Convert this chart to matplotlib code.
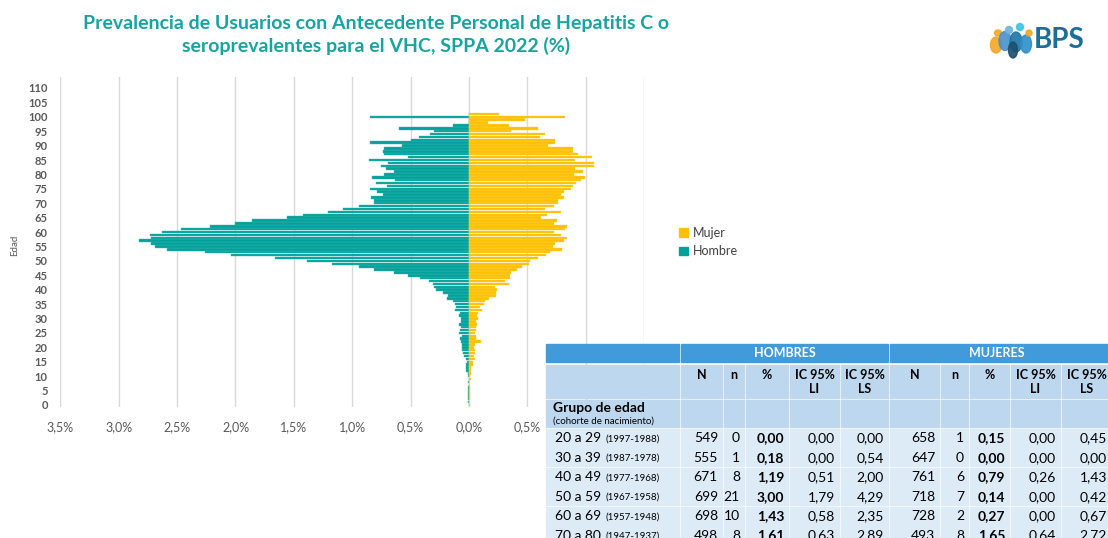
import matplotlib.pyplot as plt
import numpy as np
from matplotlib.patches import Patch, Rectangle, Ellipse

plt.rcParams['font.family'] = ['Lato', 'DejaVu Sans']

# Age-specific prevalence (%), ages 0..101
ages = np.arange(0, 102)
hombre = [0.00, 0.01, 0.01, 0.01, 0.01, 0.01, 0.01, 0.00, 0.005, 0.00,
          0.01, 0.01, 0.03, 0.03, 0.03, 0.02, 0.03, 0.04, 0.05, 0.06,
          0.06, 0.06, 0.07, 0.08, 0.06, 0.09, 0.08, 0.07, 0.09, 0.07,
          0.07, 0.09, 0.08, 0.12, 0.11, 0.12, 0.14, 0.19, 0.18, 0.22,
          0.28, 0.30, 0.31, 0.34, 0.42, 0.52, 0.64, 0.81, 0.94, 1.17,
          1.39, 1.66, 2.04, 2.26, 2.59, 2.69, 2.72, 2.83, 2.72, 2.73,
          2.63, 2.47, 2.22, 2.00, 1.86, 1.56, 1.42, 1.21, 1.08, 0.94,
          0.81, 0.81, 0.84, 0.74, 0.79, 0.85, 0.70, 0.80, 0.63, 0.83,
          0.73, 0.64, 0.71, 0.75, 0.69, 0.86, 0.52, 0.73, 0.74, 0.73,
          0.57, 0.85, 0.50, 0.43, 0.33, 0.30, 0.60, 0.14, 0.00, 0.00,
          0.85, 0.00]
mujer = [0.01, 0.00, 0.01, 0.01, 0.01, 0.01, 0.01, 0.00, 0.00, 0.02,
         0.01, 0.02, 0.02, 0.02, 0.03, 0.03, 0.05, 0.04, 0.05, 0.05,
         0.04, 0.05, 0.10, 0.06, 0.06, 0.05, 0.06, 0.06, 0.07, 0.06,
         0.08, 0.07, 0.08, 0.11, 0.09, 0.13, 0.14, 0.17, 0.23, 0.23,
         0.24, 0.22, 0.34, 0.31, 0.35, 0.35, 0.36, 0.41, 0.45, 0.51,
         0.52, 0.59, 0.66, 0.69, 0.80, 0.72, 0.74, 0.81, 0.84, 0.79,
         0.73, 0.82, 0.84, 0.73, 0.75, 0.62, 0.67, 0.79, 0.65, 0.73,
         0.76, 0.76, 0.81, 0.79, 0.81, 0.87, 0.89, 0.92, 0.96, 0.99,
         0.90, 0.98, 0.91, 1.07, 1.07, 0.91, 1.05, 0.93, 0.89, 0.89,
         0.68, 0.74, 0.74, 0.61, 0.65, 0.36, 0.59, 0.34, 0.16, 0.48,
         0.82, 0.26]

# Table by age group
grupos = ["20 a 29", "30 a 39", "40 a 49", "50 a 59", "60 a 69", "70 a 80"]
cohortes = ["(1997-1988)", "(1987-1978)", "(1977-1968)", "(1967-1958)",
            "(1957-1948)", "(1947-1937)"]
h_N = [549, 555, 671, 699, 698, 498]
h_n = [0, 1, 8, 21, 10, 8]
h_pct = [0.00, 0.18, 1.19, 3.00, 1.43, 1.61]
h_li = [0.00, 0.00, 0.51, 1.79, 0.58, 0.63]
h_ls = [0.00, 0.54, 2.00, 4.29, 2.35, 2.89]
m_N = [658, 647, 761, 718, 728, 493]
m_n = [1, 0, 6, 7, 2, 8]
m_pct = [0.15, 0.00, 0.79, 0.14, 0.27, 1.65]
m_li = [0.00, 0.00, 0.26, 0.00, 0.00, 0.64]
m_ls = [0.45, 0.00, 1.43, 0.42, 0.67, 2.72]

teal = '#00A19B'
gold = '#FFC000'
gray = '#595959'

W, H = 1108, 538
fig = plt.figure(figsize=(W / 100, H / 100), dpi=100)

# pyramid
ax = fig.add_axes([60.3 / W, 1 - 407 / H, (644.2 - 60.3) / W, (407 - 77) / H])
ax.barh(ages, -np.array(hombre), height=0.85, color=teal, edgecolor='#3FB8B2', linewidth=0.3)
ax.barh(ages, mujer, height=0.85, color=gold, edgecolor='#FFD24D', linewidth=0.3)
ax.set_xlim(-3.5, 1.5)
ax.set_ylim(-0.7, 113.8)
xt = np.arange(-3.5, 1.51, 0.5)
ax.set_xticks(xt)
# labels right of 0,5% sit under the table in the reference
ax.set_xticklabels([f"{abs(v):.1f}%".replace('.', ',') if v < 0.9 else '' for v in xt],
                   fontsize=9, color=gray)
ax.set_yticks(np.arange(0, 111, 5))
ax.set_yticklabels([str(v) for v in range(0, 111, 5)], fontsize=8, color=gray, fontweight='bold')
ax.tick_params(axis='both', length=0)
ax.tick_params(axis='x', pad=10)
ax.tick_params(axis='y', pad=9)
ax.grid(axis='x', color='#D9D9D9', linewidth=1)
ax.set_axisbelow(True)
for s in ax.spines.values():
    s.set_visible(False)
fig.text(15 / W, 1 - 245 / H, 'Edad', rotation=90, fontsize=7, color=gray, ha='center', va='center')

fig.legend(handles=[Patch(color=gold, label='Mujer'), Patch(color=teal, label='Hombre')],
           loc='center left', bbox_to_anchor=(668 / W, 1 - 242 / H), frameon=False,
           handlelength=0.7, handleheight=0.7, handletextpad=0.4, labelspacing=0.55,
           fontsize=9, labelcolor='#404040')

# title
fig.text(376 / W, 1 - 35 / H,
         'Prevalencia de Usuarios con Antecedente Personal de Hepatitis C o\n'
         'seroprevalentes para el VHC, SPPA 2022 (%)',
         ha='center', va='center', fontsize=14, fontweight='bold', color='#17A39F',
         linespacing=1.35)

# overlay in pixel coordinates for logo and table
ov = fig.add_axes([0, 0, 1, 1])
ov.set_xlim(0, W)
ov.set_ylim(H, 0)
ov.axis('off')

# logo
blobs = [(996, 45, 11, 16, '#F5A623'), (998, 33, 7, 6, '#F5A623'),
         (1005, 41, 12, 19, '#4A90C8'), (1009, 30, 7, 7, '#6FB3E0'),
         (1016, 42, 12, 20, '#1B75A8'), (1020, 27, 7, 7, '#3FC1E0'),
         (1026, 44, 11, 18, '#2C8FC9'), (1029, 33, 6, 6, '#F5A623'),
         (1013, 50, 9, 16, '#1C4F6E')]
for bx, by, bw, bh, bc in blobs:
    ov.add_patch(Ellipse((bx, by), bw, bh, color=bc, alpha=0.9))
ov.text(1034, 40, 'BPS', fontsize=20, fontweight='bold', color='#1A6E99', va='center', ha='left')

# table
cols = [545, 680, 723, 745, 789, 840, 889, 940, 969, 1010, 1061, 1112]
dark = '#419BDA'
light = '#BDD7EE'
pale = '#DDEBF7'
tfs = 10
g = 1.5

def cell(x0, x1, y0, y1, c):
    ov.add_patch(Rectangle((x0 + g / 2, y0), x1 - x0 - g, y1 - y0, color=c, zorder=3))

cell(cols[0], cols[1], 344, 362, dark)
cell(cols[1], cols[6], 344, 362, dark)
cell(cols[6], cols[11], 344, 362, dark)
ov.text((cols[1] + cols[6]) / 2, 353, 'HOMBRES', ha='center', va='center', color='white',
        fontsize=9, fontweight='bold', zorder=4)
ov.text((cols[6] + cols[11] - 8) / 2, 353, 'MUJERES', ha='center', va='center', color='white',
        fontsize=9, fontweight='bold', zorder=4)

heads = ['N', 'n', '%', 'IC 95%\nLI', 'IC 95%\nLS'] * 2
for i in range(11):
    cell(cols[i], cols[i + 1], 365, 398, light)
    cell(cols[i], cols[i + 1], 400, 427, light)
    if i > 0:
        ov.text((cols[i] + cols[i + 1]) / 2, 369, heads[i - 1], ha='center', va='top',
                fontsize=9, fontweight='bold', color='black', linespacing=1.2, zorder=4)
ov.text(553, 408, 'Grupo de edad', fontsize=10, fontweight='bold', va='center', zorder=4)
ov.text(553, 421, '(cohorte de nacimiento)', fontsize=7, va='center', zorder=4)

def fmt(v):
    return f"{v:.2f}".replace('.', ',')

for r in range(len(grupos)):
    y0 = 429 + r * 19.4
    yc = y0 + 9.5
    for i in range(11):
        cell(cols[i], cols[i + 1], y0, y0 + 18, pale)
    ov.text(555, yc, grupos[r], fontsize=tfs, va='center', zorder=4)
    ov.text(606, yc + 0.5, cohortes[r], fontsize=7, va='center', zorder=4)
    vals = [str(h_N[r]), str(h_n[r]), fmt(h_pct[r]), fmt(h_li[r]), fmt(h_ls[r]),
            str(m_N[r]), str(m_n[r]), fmt(m_pct[r]), fmt(m_li[r]), fmt(m_ls[r])]
    for i, v in enumerate(vals):
        ov.text(cols[i + 2] - 5, yc, v, ha='right', va='center', fontsize=tfs, zorder=4,
                fontweight='bold' if i in (2, 7) else 'normal')

fig.savefig('out.png', dpi=100)
